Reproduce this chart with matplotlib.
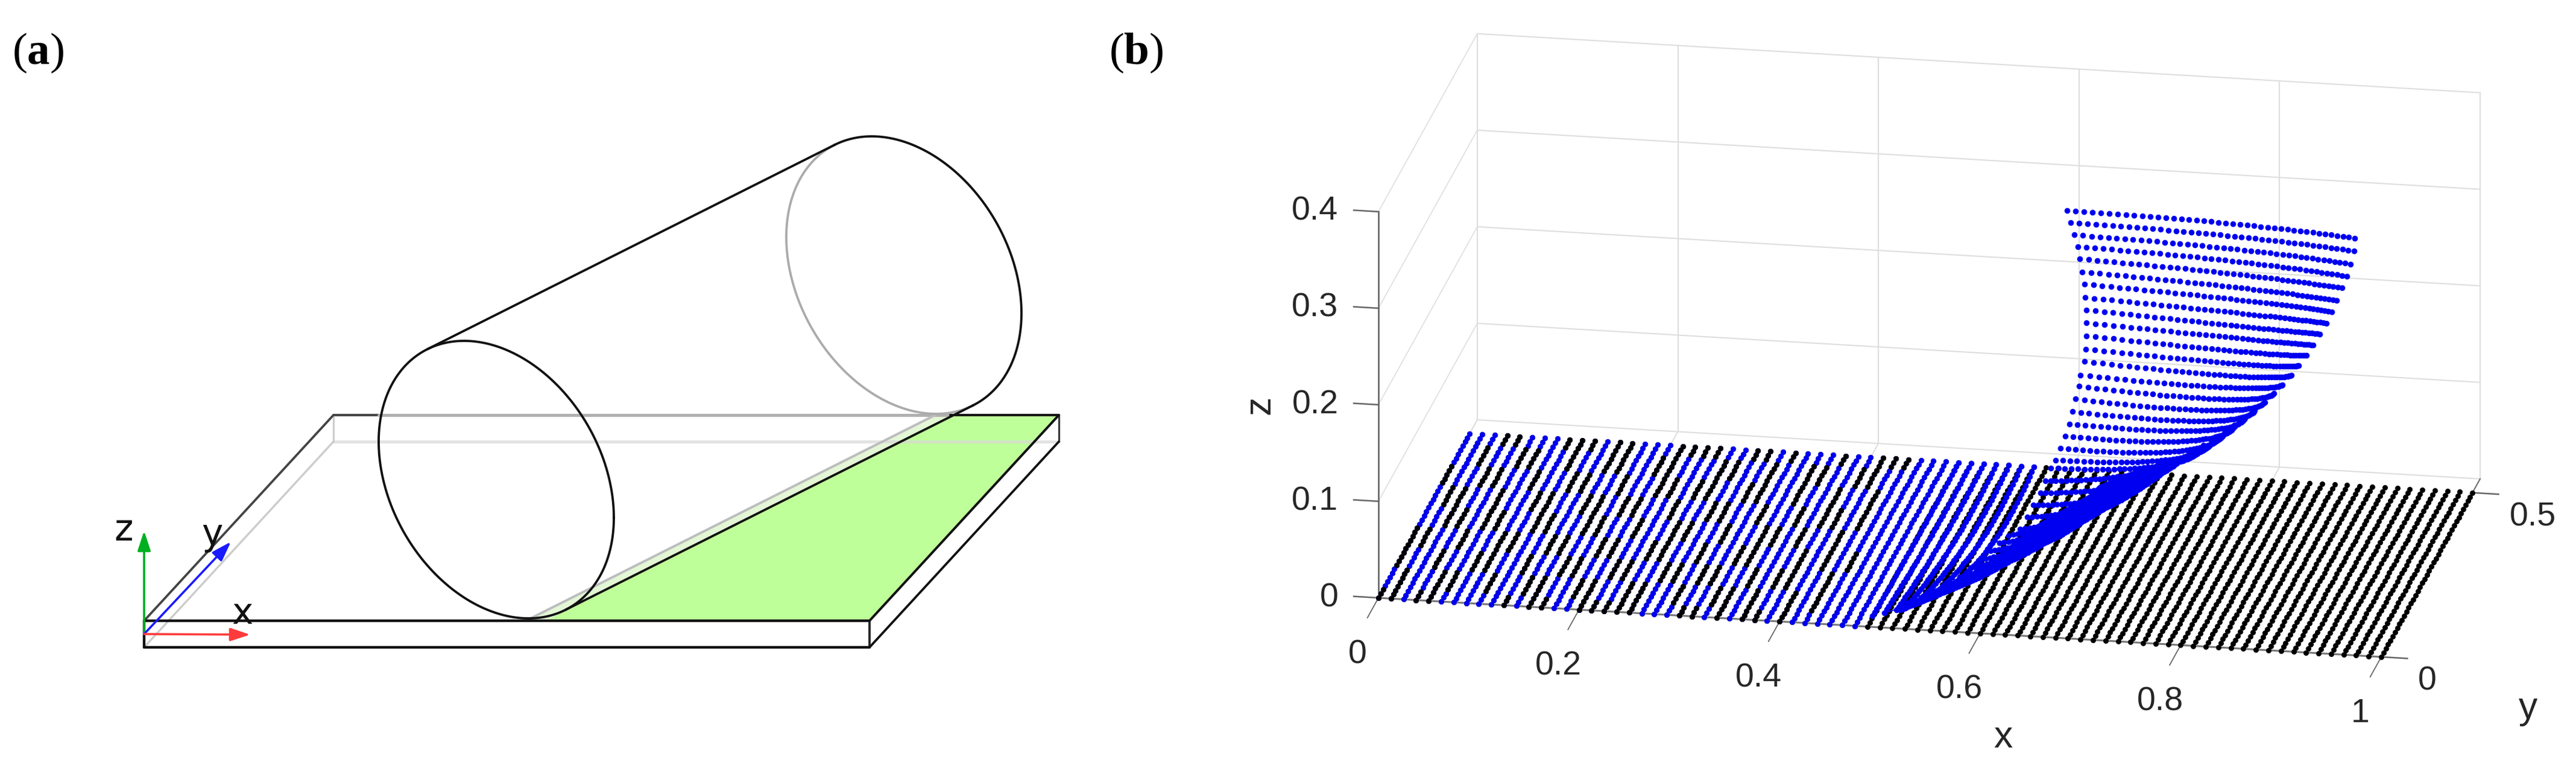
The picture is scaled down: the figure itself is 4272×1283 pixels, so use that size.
import numpy as np
import matplotlib
matplotlib.use("Agg")
import matplotlib.pyplot as plt
from mpl_toolkits.mplot3d import proj3d
from mpl_toolkits.mplot3d.art3d import Poly3DCollection

plt.rcParams["mathtext.fontset"] = "custom"
plt.rcParams["mathtext.rm"] = "Liberation Serif"
plt.rcParams["mathtext.bf"] = "Liberation Serif:bold"

W_PX, H_PX = 4272, 1283
panel_labels = [r"($\mathbf{a}$)", r"($\mathbf{b}$)"]

# ---------- panel (a): schematic, in figure pixel units ----------
plate_top = [(239, 1029), (1442, 1029), (1756, 688), (553, 688)]
plate_bot = [(239, 1073), (1442, 1073), (1756, 732), (553, 732)]
green_area = [(905, 1029), (1442, 1029), (1756, 688), (1576, 688)]
pale_area = [(876, 1027), (905, 1029), (1576, 688), (1551, 688)]
cyl_front = (823, 795)
cyl_back = (1499, 456)
cyl_half_w, cyl_half_h, cyl_shear = 195, 230, 63
origin_a = (239, 1051)
arrow_z_tip = (239, 880)
arrow_y_tip = (383, 898)
arrow_x_tip = (415, 1052)

# ---------- panel (b): values ----------
x_ticks = [0, 0.2, 0.4, 0.6, 0.8, 1]
y_ticks = [0, 0.5]
z_ticks = [0, 0.1, 0.2, 0.3, 0.4]
x_tick_labels = ["0", "0.2", "0.4", "0.6", "0.8", "1"]
y_tick_labels = ["0", "0.5"]
z_tick_labels = ["0", "0.1", "0.2", "0.3", "0.4"]
y_box_max = 0.542
grid_x = np.linspace(0, 1, 81)
grid_y = np.linspace(0, 0.5, 41)

# lifted sheet, one row per line of dots, read at both ends and at the middle dot
row_y_left = [0.5] * 22 + [0.4606, 0.4243, 0.3868, 0.3503, 0.3137, 0.2935, 0.2691, 0.2449, 0.2179,
                           0.1914, 0.1623, 0.1374, 0.1154, 0.0948, 0.0751, 0.0612, 0.0560, 0.0548, 0.0617]
row_x_left = [0.5955, 0.5992, 0.6029, 0.6063, 0.6087, 0.6109, 0.6130, 0.6139, 0.6149, 0.6149, 0.6149,
              0.6142, 0.6130, 0.6090, 0.6075, 0.6044, 0.6010, 0.5980, 0.5937, 0.5891, 0.5842, 0.5796,
              0.5811, 0.5829, 0.5827, 0.5833, 0.5830, 0.5750, 0.5703, 0.5656, 0.5613, 0.5555, 0.5501,
              0.5425, 0.5342, 0.5242, 0.5137, 0.5089, 0.5068, 0.5100, 0.5118]
row_z_left = [0.2672, 0.2553, 0.2427, 0.2308, 0.2182, 0.2049, 0.1923, 0.1786, 0.1659, 0.1525, 0.1390,
              0.1252, 0.1124, 0.0978, 0.0862, 0.0729, 0.0596, 0.0467, 0.0336, 0.0209, 0.0084, 0.0,
              0, 0, 0, 0, 0, 0, 0, 0, 0, 0, 0, 0, 0, 0, 0, 0, 0, 0, 0]
row_x_mid = [0.7996, 0.8012, 0.8042, 0.8058, 0.8073, 0.8088, 0.8104, 0.8104, 0.8104, 0.8104, 0.8088,
             0.8073, 0.8042, 0.7993, 0.7929, 0.7852, 0.7772, 0.7692, 0.7609, 0.7523, 0.7434, 0.7342,
             0.7140, 0.7097, 0.7008, 0.6966, 0.6892, 0.6788, 0.6702, 0.6617, 0.6535, 0.6437, 0.6326,
             0.6210, 0.6092, 0.5973, 0.5853, 0.5713, 0.5579, 0.5458, 0.5344]
row_z_mid = [0.3521, 0.3391, 0.3259, 0.3132, 0.2999, 0.2862, 0.2735, 0.2598, 0.2464, 0.2336, 0.2201,
             0.2072, 0.1943, 0.1819, 0.1695, 0.1573, 0.1457, 0.1351, 0.1241, 0.1130, 0.1038, 0.0967,
             0.0939, 0.0886, 0.0833, 0.0813, 0.0790, 0.0754, 0.0721, 0.0683, 0.0644, 0.0620, 0.0582,
             0.0545, 0.0505, 0.0452, 0.0414, 0.0366, 0.0303, 0.0249, 0.0183]
row_x_right = [0.9733, 0.9727, 0.9690, 0.9654, 0.9607, 0.9555, 0.9506, 0.9454, 0.9389, 0.9322, 0.9254,
               0.9178, 0.9101, 0.9015, 0.8929, 0.8837, 0.8739, 0.8640, 0.8542, 0.8441, 0.8333, 0.8226,
               0.8119, 0.7996, 0.7888, 0.7781, 0.7658, 0.7535, 0.7412, 0.7302, 0.7167, 0.7044, 0.6891,
               0.6737, 0.6584, 0.6430, 0.6298, 0.6098, 0.5899, 0.5696, 0.5497]
row_z_right = [0.4322, 0.4188, 0.4051, 0.3921, 0.3797, 0.3666, 0.3545, 0.3424, 0.3308, 0.3189, 0.3076,
               0.2966, 0.2862, 0.2758, 0.2663, 0.2568, 0.2476, 0.2390, 0.2310, 0.2234, 0.2154, 0.2083,
               0.2007, 0.1919, 0.1849, 0.1769, 0.1691, 0.1620, 0.1542, 0.1477, 0.1389, 0.1311, 0.1216,
               0.1124, 0.1028, 0.0929, 0.0838, 0.0711, 0.0583, 0.0456, 0.0351]

# columns that stay nearly flat but lift off at their low end: tip x, tip z
fan_tip_x = [0.4925, 0.5045, 0.5165, 0.5276, 0.5397, 0.5496, 0.5600]
fan_tip_z = [0.0114, 0.0153, 0.0192, 0.0250, 0.0312, 0.0350, 0.0406]
fan_col_first = 39

# inner edge of the part where the blue dots merge into a solid wedge (at y = 0)
wedge_x = [0.5045, 0.5496, 0.6097, 0.6530, 0.6717, 0.6909, 0.7090, 0.7180, 0.7480]
wedge_z = [0.0153, 0.0337, 0.0750, 0.1139, 0.1263, 0.1388, 0.1505, 0.1605, 0.1755]

# which colour lies on top in the flat zone, per column (k black, b blue), from y=0 up to y=0.5
top_layer = ["kkbkkbbbbbkbkkbbkkkkkbbbkkbkbkkbkbbbbbbb",
             "bkbbkkbbkbbkkbbkkbbkkbbkbbkkbkbbkbkbbbkb",
             "kbbkbbkkbbkbbkkbbkkbbkkbkkbbkbkkbbkbbbbb",
             "kkbbkbbkkbbkkbbkkbbkkbbkbbkkbbbkbkbkbbkb",
             "bbkkbkkbbkkbbkkbbkbbkkbbkbbkkbkbbkbbbbbb",
             "bkkbbkbbkkbbkkbkkbbkbbkkbbkbbkbkkbkbbbkb",
             "kbbkkbbkbbkkbbkbbkkbkkbbkkbbkbbkbbkbbkbb",
             "bbkbbkkbbkbbkkbbkkbbbkkbbkbbkkbbkkbbkbkb",
             "bbbkkbbbkkkbkkbbbkkkkbbkkbkbbbkbbkkkbkkb"]

fig = plt.figure(figsize=(W_PX / 100, H_PX / 100), dpi=100, facecolor="white")

# ---------- panel (a) ----------
axa = fig.add_axes([0, 0, 1, 1])
axa.set_xlim(0, W_PX)
axa.set_ylim(H_PX, 0)
axa.axis("off")
PX = 0.72


def seg(p, q, color, lw=3.8, z=3, alpha=None):
    axa.plot([p[0], q[0]], [p[1], q[1]], color=color, lw=lw * PX, zorder=z, alpha=alpha,
             solid_capstyle="round")


axa.fill(*zip(*green_area), color="#BFFF99", lw=0, zorder=1)
axa.fill(*zip(*pale_area), color="#E3F6D6", lw=0, zorder=1)

tl, tr, tbr, tbl = plate_top
bl, br, bbr, bbl = plate_bot
seg(bbl, bbr, "#D8D8D8", 5, 2, 0.7)
seg(bl, bbl, "#CCCCCC", 3.4, 2)
seg(tbl, bbl, "#CCCCCC", 3, 2)
seg(tl, tbl, "#444444", 3.8, 3)
seg(tbl, (628, 688), "#444444", 4, 3)
seg((628, 688), (1576, 688), "#B0B0B0", 5, 3)
seg((1576, 688), tbr, "#111111", 4, 3)
seg(tbr, bbr, "#333333", 3, 3)
seg(tl, tr, "#111111", 4.4, 4)
seg(bl, br, "#111111", 4.4, 4)
seg(tl, bl, "#111111", 4.4, 4)
seg(tr, br, "#222222", 3.8, 4)
seg(tr, tbr, "#111111", 4, 4)
seg(br, bbr, "#111111", 3.8, 4)
seg((876, 1027), (1551, 688), "#BDBDBD", 4, 3)

d = np.array(cyl_back) - np.array(cyl_front)
q_e = np.sqrt(cyl_half_h ** 2 - cyl_shear ** 2)


def ell(c, t):
    return c[0] + cyl_half_w * np.cos(t), c[1] + cyl_shear * np.cos(t) + q_e * np.sin(t)


t0 = np.arctan2(q_e * d[0], cyl_shear * d[0] - cyl_half_w * d[1])
t_a, t_b = t0, t0 + np.pi
cands = [t_a, t_b]
ys = [ell(cyl_front, t)[1] for t in cands]
t_low = cands[int(np.argmax(ys))]
t_high = cands[int(np.argmin(ys))]
tt = np.linspace(0, 2 * np.pi, 400)
axa.plot(*ell(cyl_front, tt), color="#111111", lw=3.8 * PX, zorder=5)
arc_dark = np.linspace(t_high, t_high + (t_low - t_high) % (2 * np.pi), 200)
arc_gray = np.linspace(t_low, t_low + (t_high - t_low) % (2 * np.pi), 200)
if not np.any(np.isclose(np.cos(arc_dark), 1, atol=1e-3)):
    arc_dark, arc_gray = arc_gray, arc_dark
axa.plot(*ell(cyl_back, arc_gray), color="#ABABAB", lw=3.8 * PX, zorder=3)
axa.plot(*ell(cyl_back, arc_dark), color="#111111", lw=3.8 * PX, zorder=5)
for t in (t_low, t_high):
    seg(ell(cyl_front, t), ell(cyl_back, t), "#111111", 3.8, 5)


def arrow(tip, color):
    axa.annotate("", xy=tip, xytext=origin_a, zorder=6,
                 arrowprops=dict(arrowstyle="-|>,head_length=1.0,head_width=0.33", mutation_scale=20,
                                 color=color, lw=3.6 * PX, shrinkA=0, shrinkB=0))


arrow(arrow_z_tip, "#00B020")
arrow(arrow_y_tip, "#1A1AFF")
arrow(arrow_x_tip, "#FF3B3B")
for s, xy in (("z", (205, 880)), ("y", (352, 887)), ("x", (402, 1018))):
    axa.text(*xy, s, fontsize=43, family="DejaVu Sans", ha="center", va="center", color="#111111", zorder=7)

axa.text(20, 88, panel_labels[0], fontsize=54, family="Liberation Serif", ha="left", va="center")
axa.text(1839, 88, panel_labels[1], fontsize=54, family="Liberation Serif", ha="left", va="center")

# ---------- panel (b) ----------
ax = fig.add_axes([0.5, 0.02, 1240 / W_PX, 1240 / H_PX], projection="3d", proj_type="ortho",
                  computed_zorder=False)
ax.patch.set_visible(False)
ax.set_axis_off()
ax.set_xlim(0, 1)
ax.set_ylim(0, y_box_max)
ax.set_zlim(0, 0.4)
ax.view_init(elev=19.0, azim=-79.75)
ax.set_box_aspect((1690, 921, 677), zoom=1.6)


def to_px(p):
    xp, yp, _ = proj3d.proj_transform(p[0], p[1], p[2], ax.get_proj())
    a, b = ax.transData.transform((xp, yp))
    return np.array([a, H_PX - b])


target0 = np.array([2286.0, 991.0])
target1 = np.array([3949.0, 1090.0])
left, bottom, wid = 2300.0, 20.0, 1240.0
for _ in range(5):
    ax.set_position([left / W_PX, bottom / H_PX, wid / W_PX, wid / H_PX])
    ax.apply_aspect()
    a0, a1 = to_px((0, 0, 0)), to_px((1, 0, 0))
    wid *= np.linalg.norm(target1 - target0) / np.linalg.norm(a1 - a0)
    ax.set_position([left / W_PX, bottom / H_PX, wid / W_PX, wid / H_PX])
    ax.apply_aspect()
    a0 = to_px((0, 0, 0))
    left += target0[0] - a0[0]
    bottom -= target0[1] - a0[1]
ax.set_position([left / W_PX, bottom / H_PX, wid / W_PX, wid / H_PX])
ax.apply_aspect()

GRID = "#DEDEDE"
AXC = "#666666"
for xv in x_ticks:
    ax.plot([xv, xv], [y_box_max] * 2, [0, 0.4], color=GRID, lw=1.5, zorder=1)
    ax.plot([xv, xv], [0, y_box_max], [0, 0], color=GRID, lw=1.5, zorder=1)
for zv in z_ticks:
    ax.plot([0, 1], [y_box_max] * 2, [zv, zv], color=GRID, lw=1.5, zorder=1)
    ax.plot([0, 0], [0, y_box_max], [zv, zv], color=GRID, lw=1.2, zorder=1)
ax.plot([0, 0], [0, 0], [0, 0.4], color=AXC, lw=1.9, zorder=2)
ax.plot([0, 1], [0, 0], [0, 0], color="#777777", lw=2.2, zorder=2)
ax.plot([1, 1], [0, y_box_max], [0, 0], color="#777777", lw=1.6, zorder=2)
for xv in x_ticks:
    ax.plot([xv, xv], [0, -0.0607], [0, 0], color=AXC, lw=1.3, zorder=2)
for yv in y_ticks:
    ax.plot([1, 1.026], [yv, yv], [0, 0], color=AXC, lw=1.8, zorder=2)
for zv in z_ticks:
    ax.plot([0, -0.0246], [0, 0], [zv, zv], color=AXC, lw=1.8, zorder=2)

# labels are placed where their 3D anchor projects to
TICK = dict(family="Liberation Sans", fontsize=40, color="#262626")
for xv, s in zip(x_ticks, x_tick_labels):
    axa.text(*to_px((xv + 0.0104, -0.171, 0)), s, ha="center", va="center", **TICK)
for yv, s in zip(y_ticks, y_tick_labels):
    axa.text(*to_px((1.0489, yv - 0.0666, 0)), s, ha="left", va="center", **TICK)
for zv, s in zip(z_ticks, z_tick_labels):
    axa.text(*to_px((-0.04, 0, zv - 0.0025)), s, ha="right", va="center", **TICK)
LAB = dict(family="Liberation Sans", fontsize=45, color="#262626", ha="center", va="center")
axa.text(*to_px((0.678, -0.3024, 0)), "x", **LAB)
axa.text(*to_px((1.1697, -0.1275, 0)), "y", **LAB)
axa.text(*to_px((-0.1185, 0, 0.1925)), "z", rotation=90, **LAB)

# floor dots
gx, gy = np.meshgrid(grid_x, grid_y)
DOT = 42
DOT_LIFT = 48
BLUE = "#0000F0"
ax.scatter(gx.ravel(), gy.ravel(), 0, s=DOT, c="#000000", linewidths=0, depthshade=False, zorder=3)

# blue dots: flat columns
n_flat = fan_col_first
bx, by = np.meshgrid(grid_x[:n_flat], grid_y)
ax.scatter(bx.ravel(), by.ravel(), 0, s=DOT, c=BLUE, linewidths=0, depthshade=False, zorder=4)


def row_points(p0, pm, p1, n):
    t = np.linspace(0, 1, n)
    a, b, c = (1 - t) * (1 - 2 * t), 4 * t * (1 - t), t * (2 * t - 1)
    return a * p0 + b * pm + c * p1


sx, sy, sz = [], [], []
for k in range(len(row_x_left)):
    yl = row_y_left[k]
    sx.append(row_points(row_x_left[k], row_x_mid[k], row_x_right[k], 41))
    sy.append(row_points(yl, yl / 2, 0.0, 41))
    sz.append(row_points(row_z_left[k], row_z_mid[k], row_z_right[k], 41))
for j in range(len(fan_tip_x)):
    top_x = grid_x[fan_col_first + j]
    sx.append(row_points(top_x, top_x + 0.002, fan_tip_x[j], 41))
    sy.append(row_points(0.5, 0.25, 0.0, 41))
    sz.append(row_points(0.0, 0.003, fan_tip_z[j], 41))
ax.scatter(np.concatenate(sx), np.concatenate(sy), np.concatenate(sz), s=DOT_LIFT, c=BLUE,
           linewidths=0, depthshade=False, zorder=5)

# the solid wedge: inner edge up, then back down the outer ends of the rows
wedge_verts = [(a, 0.0, b) for a, b in zip(wedge_x, wedge_z)]
wedge_verts += [(a, 0.0, b) for a, b in zip(row_x_right[22:], row_z_right[22:])]
wedge = Poly3DCollection([wedge_verts], facecolors=BLUE, edgecolors=BLUE, linewidths=1)
wedge.set_zorder(5)
ax.add_collection3d(wedge)

# black dots that win over the blue ones in the flat zone
kx, ky = [], []
for r, yv in enumerate(grid_y):
    band = top_layer[int(round(r / 40 * (len(top_layer) - 1)))]
    for c in range(36):
        if band[c] == "k":
            kx.append(grid_x[c])
            ky.append(yv)
ax.scatter(kx, ky, 0, s=DOT, c="#000000", linewidths=0, depthshade=False, zorder=4.5)

for child in ax.get_children():
    child.set_clip_on(False)

fig.savefig("out.png", dpi=100, facecolor="white")
